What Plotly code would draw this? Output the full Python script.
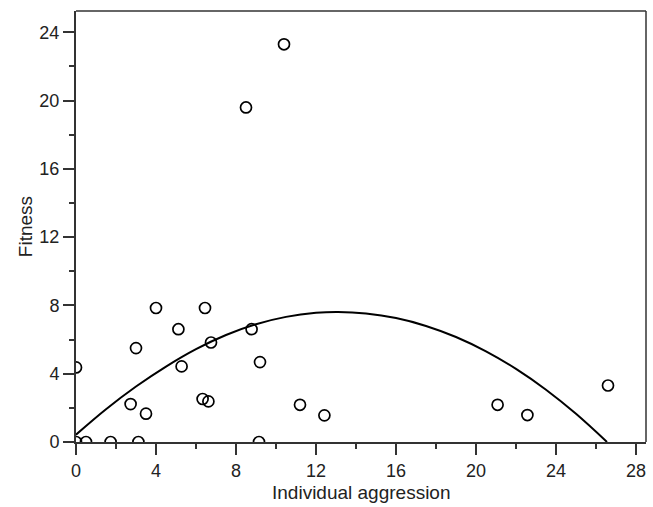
import plotly.graph_objects as go

# Observed individuals: aggression vs fitness
aggression = [0, 0, 0.5, 1.73, 3.12, 4.0, 6.45, 5.12, 3.0, 5.28, 2.73, 3.5,
              6.33, 6.62, 6.75, 8.78, 9.2, 9.15, 11.2, 12.42, 8.5, 10.4,
              21.08, 22.57, 26.6]
fitness = [4.37, 0, 0, 0, 0, 7.85, 7.85, 6.61, 5.5, 4.43, 2.22, 1.66,
           2.52, 2.38, 5.83, 6.61, 4.68, 0, 2.18, 1.56, 19.6, 23.3,
           2.18, 1.58, 3.31]

# Fitted curve
curve_x = [0, 1.5, 3, 4.5, 6, 7.5, 9, 10.5, 12, 13.1, 14.5, 16, 17.5, 19,
           20.5, 22, 23.5, 25, 26.55]
curve_y = [0.43, 1.92, 3.25, 4.42, 5.44, 6.27, 6.9, 7.33, 7.57, 7.62, 7.53,
           7.26, 6.8, 6.15, 5.31, 4.28, 3.06, 1.65, 0]

x_ticks = [0, 4, 8, 12, 16, 20, 24, 28]
y_ticks = [0, 4, 8, 12, 16, 20, 24]

FONT = "Liberation Sans, Arial, sans-serif"
AX = "#333333"

fig = go.Figure()
fig.add_trace(go.Scatter(
    x=curve_x, y=curve_y, mode="lines", line=dict(color="black", width=2, shape="spline"),
    hoverinfo="skip", showlegend=False))
fig.add_trace(go.Scatter(
    x=aggression, y=fitness, mode="markers",
    marker=dict(symbol="circle-open", size=11, color="black", line=dict(width=1.7)),
    showlegend=False))

axis_common = dict(
    showgrid=False, zeroline=False, showline=True, linecolor=AX, linewidth=2,
    ticks="outside", ticklen=11, tickwidth=2, tickcolor=AX, automargin=False,
    tickfont=dict(family=FONT, size=18, color="#222222"),
    minor=dict(ticks="outside", ticklen=5, tickwidth=1.5, tickcolor=AX, dtick=2, showgrid=False),
)

fig.update_layout(
    width=653, height=507,
    margin=dict(l=76, r=7, t=11, b=65),
    plot_bgcolor="white", paper_bgcolor="white",
    xaxis=dict(range=[0, 28.5], tickvals=x_ticks, **axis_common),
    yaxis=dict(range=[0, 25.25], tickvals=y_ticks, **axis_common,
               title=dict(text="Fitness", font=dict(family=FONT, size=19, color="#222222"),
                          standoff=2)),
    annotations=[
        dict(text="Individual aggression", xref="paper", yref="paper", x=0.5, y=-0.118,
             xanchor="center", yanchor="middle", showarrow=False,
             font=dict(family=FONT, size=19, color="#222222")),
    ],
    shapes=[
        dict(type="line", xref="paper", yref="paper", x0=0, x1=1, y0=1, y1=1,
             line=dict(color=AX, width=1.5)),
        dict(type="line", xref="paper", yref="paper", x0=1, x1=1, y0=0, y1=1,
             line=dict(color=AX, width=1.5)),
    ],
)

fig.write_html("out.html")
